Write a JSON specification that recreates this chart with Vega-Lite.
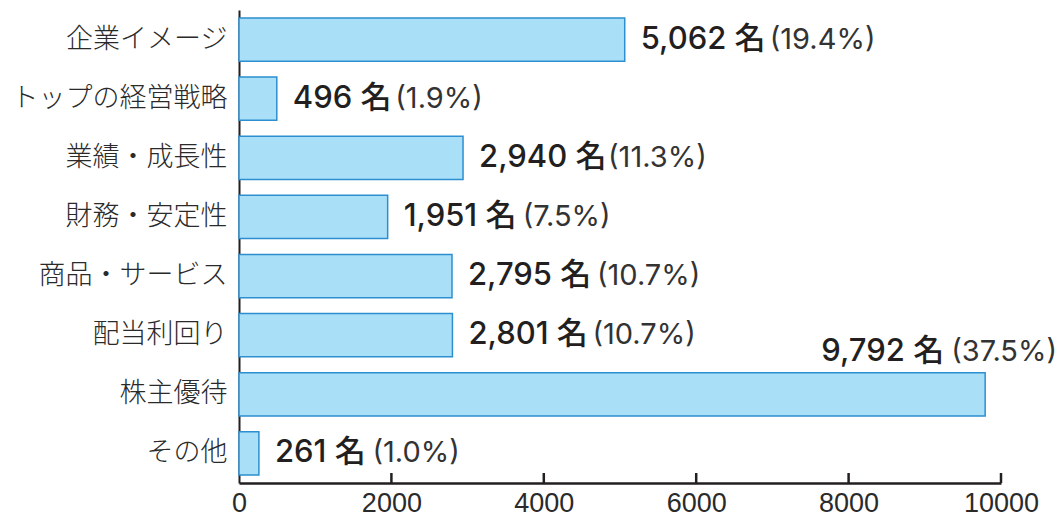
{
  "$schema": "https://vega.github.io/schema/vega-lite/v6.json",
  "autosize": "none",
  "width": 762,
  "height": 473,
  "padding": {"left": 239, "top": 10, "right": 59, "bottom": 36},
  "background": "white",
  "config": {"view": {"stroke": null}},
  "datasets": {
    "bars": [
      {"item": "企業イメージ", "value": 5062, "pct": 19.4},
      {"item": "トップの経営戦略", "value": 496, "pct": 1.9},
      {"item": "業績・成長性", "value": 2940, "pct": 11.3},
      {"item": "財務・安定性", "value": 1951, "pct": 7.5},
      {"item": "商品・サービス", "value": 2795, "pct": 10.7},
      {"item": "配当利回り", "value": 2801, "pct": 10.7},
      {"item": "株主優待", "value": 9792, "pct": 37.5},
      {"item": "その他", "value": 261, "pct": 1.0}
    ],
    "ticks": [
      {"t": 2000},
      {"t": 4000},
      {"t": 6000},
      {"t": 8000},
      {"t": 10000}
    ]
  },
  "layer": [
    {
      "data": {"name": "bars"},
      "mark": {"type": "bar", "fill": "#a9dff7", "stroke": "#2d8fcf", "strokeWidth": 1.5},
      "encoding": {
        "y": {
          "field": "item",
          "type": "nominal",
          "sort": null,
          "scale": {"domain": ["企業イメージ", "トップの経営戦略", "業績・成長性", "財務・安定性", "商品・サービス", "配当利回り", "株主優待", "その他"], "paddingInner": 0.27, "paddingOuter": 0.135},
          "axis": {
            "title": null,
            "ticks": false,
            "labelFont": "Noto Sans CJK JP",
            "labelFontSize": 27,
            "labelFontWeight": 300,
            "labelColor": "#2a2a2a",
            "labelPadding": 12,
            "labelLimit": 400,
            "domainColor": "#231f20",
            "domainWidth": 2
          }
        },
        "x": {
          "field": "value",
          "type": "quantitative",
          "scale": {"domain": [0, 10000]},
          "axis": {
            "title": null,
            "values": [0, 2000, 4000, 6000, 8000, 10000],
            "format": "d",
            "grid": false,
            "ticks": false,
            "domainColor": "#231f20",
            "domainWidth": 2.5,
            "labelFont": "Liberation Sans",
            "labelFontSize": 27,
            "labelColor": "#2a2a2a",
            "labelPadding": 7,
            "labelFlush": false
          }
        }
      }
    },
    {
      "data": {"name": "ticks"},
      "mark": {"type": "rule", "color": "#231f20", "strokeWidth": 2.5},
      "encoding": {
        "x": {"field": "t", "type": "quantitative"},
        "y": {"value": {"expr": "height - 10"}},
        "y2": {"value": {"expr": "height"}}
      }
    },
    {
      "data": {"name": "bars"},
      "transform": [
        {"calculate": "format(datum.value, ',') + ' 名'", "as": "num"},
        {"calculate": "'(' + format(datum.pct, '.1f') + '%)'", "as": "pctLabel"},
        {"calculate": "datum.value + (16 + 18.5 * length(replace(datum.num, /[^0-9]/g, '')) - 5 * (length(datum.num) - length(replace(datum.num, /1/g, ''))) + (indexof(datum.num, ',') >= 0 ? 8 : 0) + 40 + 7) * 10000 / 762", "as": "pctx"}
      ],
      "encoding": {
        "y": {"field": "item", "type": "nominal", "sort": null}
      },
      "layer": [
        {
          "transform": [{"filter": "datum.value < 9000"}],
          "mark": {"type": "text", "align": "left", "baseline": "middle", "dx": 16, "font": "Inter, Noto Sans CJK JP", "fontWeight": 500, "fontSize": 31, "color": "#231f20"},
          "encoding": {"x": {"field": "value", "type": "quantitative"}, "text": {"field": "num"}}
        },
        {
          "transform": [{"filter": "datum.value < 9000"}],
          "mark": {"type": "text", "align": "left", "baseline": "middle", "font": "Inter, Noto Sans CJK JP", "fontWeight": 400, "fontSize": 29, "color": "#333333"},
          "encoding": {"x": {"field": "pctx", "type": "quantitative"}, "text": {"field": "pctLabel"}}
        },
        {
          "transform": [{"filter": "datum.value >= 9000"}],
          "mark": {"type": "text", "align": "right", "baseline": "middle", "dx": -41, "dy": -42, "font": "Inter, Noto Sans CJK JP", "fontWeight": 500, "fontSize": 31, "color": "#231f20"},
          "encoding": {"x": {"field": "value", "type": "quantitative"}, "text": {"field": "num"}}
        },
        {
          "transform": [{"filter": "datum.value >= 9000"}],
          "mark": {"type": "text", "align": "left", "baseline": "middle", "dx": -34, "dy": -42, "font": "Inter, Noto Sans CJK JP", "fontWeight": 400, "fontSize": 29, "color": "#333333"},
          "encoding": {"x": {"field": "value", "type": "quantitative"}, "text": {"field": "pctLabel"}}
        }
      ]
    }
  ]
}
